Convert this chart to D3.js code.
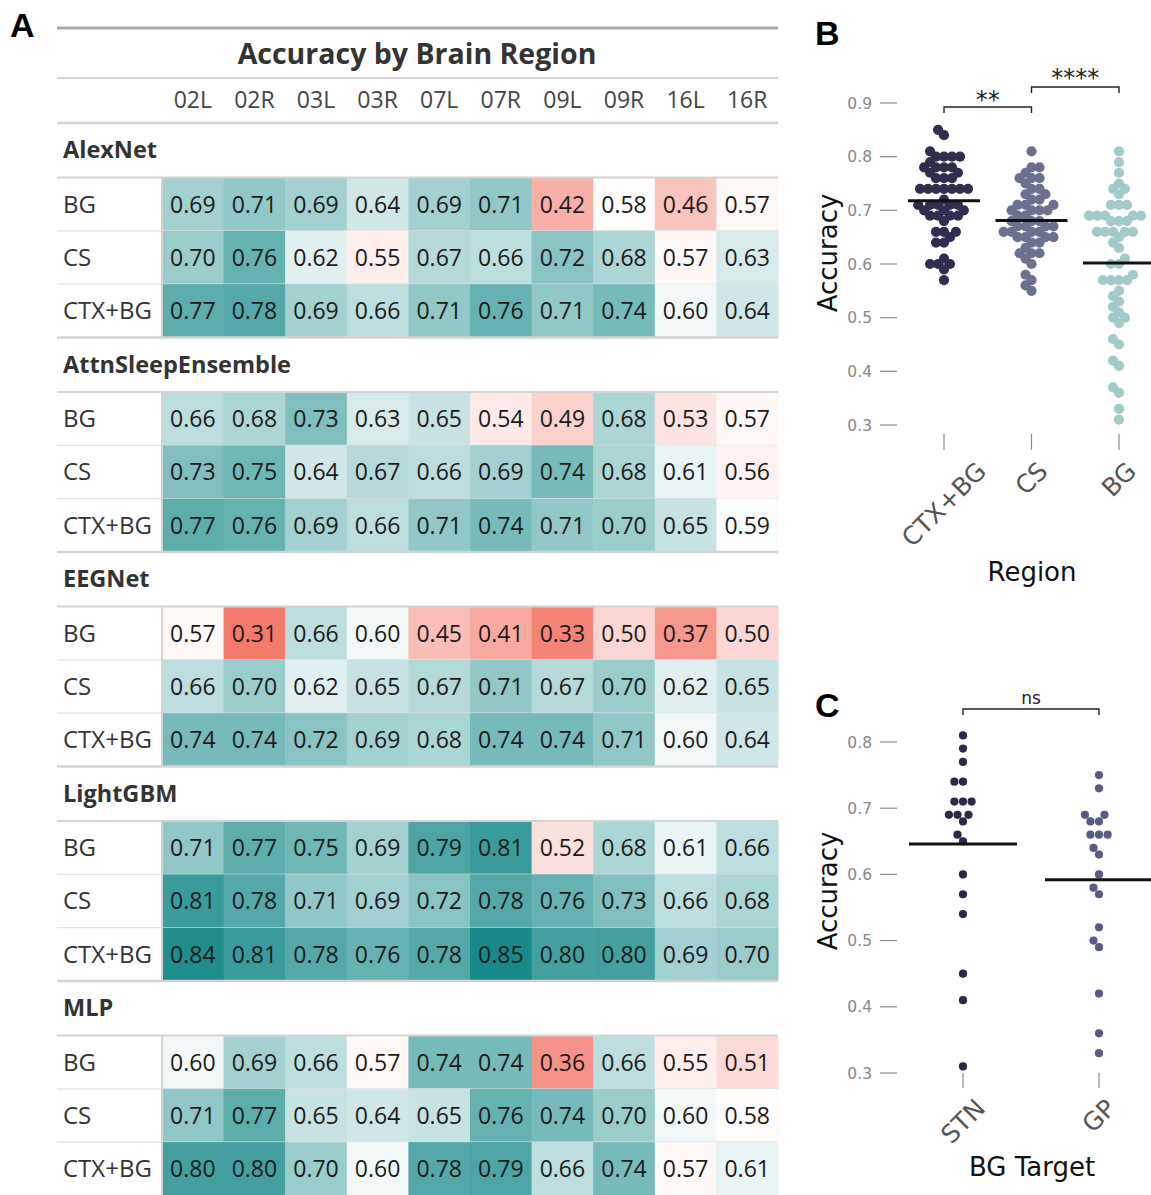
<!DOCTYPE html>
<html><head><meta charset="utf-8">
<script src="https://cdn.jsdelivr.net/npm/d3@7"></script>
<style>body{margin:0;background:#fff}svg{display:block}</style>
</head><body><svg id="c" width="1151" height="1195"></svg>
<script>
// ---------------- DATA ----------------
const columns = ["02L","02R","03L","03R","07L","07R","09L","09R","16L","16R"];
const models = ["AlexNet","AttnSleepEnsemble","EEGNet","LightGBM","MLP"];
const regions = ["BG","CS","CTX+BG"];
const alexnet = [
  [0.69,0.71,0.69,0.64,0.69,0.71,0.42,0.58,0.46,0.57],
  [0.70,0.76,0.62,0.55,0.67,0.66,0.72,0.68,0.57,0.63],
  [0.77,0.78,0.69,0.66,0.71,0.76,0.71,0.74,0.60,0.64]];
const attnSleep = [
  [0.66,0.68,0.73,0.63,0.65,0.54,0.49,0.68,0.53,0.57],
  [0.73,0.75,0.64,0.67,0.66,0.69,0.74,0.68,0.61,0.56],
  [0.77,0.76,0.69,0.66,0.71,0.74,0.71,0.70,0.65,0.59]];
const eegnet = [
  [0.57,0.31,0.66,0.60,0.45,0.41,0.33,0.50,0.37,0.50],
  [0.66,0.70,0.62,0.65,0.67,0.71,0.67,0.70,0.62,0.65],
  [0.74,0.74,0.72,0.69,0.68,0.74,0.74,0.71,0.60,0.64]];
const lightgbm = [
  [0.71,0.77,0.75,0.69,0.79,0.81,0.52,0.68,0.61,0.66],
  [0.81,0.78,0.71,0.69,0.72,0.78,0.76,0.73,0.66,0.68],
  [0.84,0.81,0.78,0.76,0.78,0.85,0.80,0.80,0.69,0.70]];
const mlp = [
  [0.60,0.69,0.66,0.57,0.74,0.74,0.36,0.66,0.55,0.51],
  [0.71,0.77,0.65,0.64,0.65,0.76,0.74,0.70,0.60,0.58],
  [0.80,0.80,0.70,0.60,0.78,0.79,0.66,0.74,0.57,0.61]];
const modelValues = [alexnet, attnSleep, eegnet, lightgbm, mlp];

const regionOrder = ["CTX+BG","CS","BG"];
const regionTicks = [0.3,0.4,0.5,0.6,0.7,0.8,0.9];
const targets = ["STN","GP"];
const stnChannels = ["02L","02R","07L","07R"];
const gpChannels = ["03L","03R","09L","09R"];
const targetTicks = [0.3,0.4,0.5,0.6,0.7,0.8];

// ---------------- SETUP ----------------
const svg = d3.select("#c");
const TF = "'Open Sans', 'Noto Sans', sans-serif";
const MF = "'DejaVu Sans', sans-serif";

const color = d3.scaleLinear().domain([0.31, 0.585, 0.85])
  .range(["#f47a6c", "#ffffff", "#17898a"]).clamp(true);

// ---------------- PANEL A: TABLE ----------------
const tx0 = 57, tx1 = 778, stubR = 162;
const xCol = d3.scaleBand().domain(columns).range([stubR, tx1]);
const headTop = 123, groupH = 214.5, labelH = 54.5, rowH = 53.33;
const yRow = d3.scaleBand().domain(regions).range([0, rowH*3]);

svg.append("text").attr("x", 10).attr("y", 37).text("A")
  .style("font-family", "'Liberation Sans', Arial, sans-serif").style("font-weight", "bold")
  .style("font-size", "34px").attr("fill", "#000");

svg.append("line").attr("x1", tx0).attr("x2", tx1).attr("y1", 28).attr("y2", 28)
  .attr("stroke", "#a9a9a9").attr("stroke-width", 3);
svg.append("text").attr("x", 417).attr("y", 64).attr("text-anchor", "middle")
  .text("Accuracy by Brain Region").style("font-family", TF).style("font-weight", "bold")
  .style("font-size", "28.5px").attr("fill", "#333");
svg.append("line").attr("x1", tx0).attr("x2", tx1).attr("y1", 78).attr("y2", 78)
  .attr("stroke", "#d3d3d3").attr("stroke-width", 2);
svg.append("g").selectAll("text").data(columns).join("text")
  .attr("x", d => xCol(d) + xCol.bandwidth()/2).attr("y", 108).attr("text-anchor", "middle")
  .text(d => d).style("font-family", TF).style("font-size", "23px").attr("fill", "#444");

const groups = svg.append("g");
models.forEach((m, gi) => {
  const top = headTop + gi*groupH;
  const rowsTop = top + labelH;
  const g = groups.append("g");
  regions.forEach((r, ri) => {
    const y = rowsTop + yRow(r);
    const vals = modelValues[gi][ri];
    g.append("g").selectAll("rect").data(vals).join("rect")
      .attr("x", (d, i) => xCol(columns[i])).attr("y", y)
      .attr("width", xCol.bandwidth() + 0.5).attr("height", yRow.bandwidth() + 0.5)
      .attr("fill", d => color(d));
    g.append("g").selectAll("text").data(vals).join("text")
      .attr("x", (d, i) => xCol(columns[i]) + xCol.bandwidth()/2)
      .attr("y", y + yRow.bandwidth()/2 + 8.5).attr("text-anchor", "middle")
      .text(d => d.toFixed(2)).style("font-family", TF).style("font-size", "23px").attr("fill", "#1a1a1a");
    g.append("text").attr("x", 63).attr("y", y + yRow.bandwidth()/2 + 8.5).text(r)
      .style("font-family", TF).style("font-size", "24px").attr("fill", "#333");
    if (ri < 2) {
      g.append("line").attr("x1", tx0).attr("x2", tx1)
        .attr("y1", y + yRow.bandwidth()).attr("y2", y + yRow.bandwidth())
        .attr("stroke", "#e2e2e2").attr("stroke-width", 1.2);
    }
  });
  g.append("line").attr("x1", stubR).attr("x2", stubR).attr("y1", rowsTop).attr("y2", rowsTop + rowH*3)
    .attr("stroke", "#d3d3d3").attr("stroke-width", 2);
  g.append("text").attr("x", 63).attr("y", top + 35).text(m)
    .style("font-family", TF).style("font-weight", "bold").style("font-size", "23.5px").attr("fill", "#333");
  g.append("line").attr("x1", tx0).attr("x2", tx1).attr("y1", rowsTop).attr("y2", rowsTop)
    .attr("stroke", "#d3d3d3").attr("stroke-width", 2);
  g.append("line").attr("x1", tx0).attr("x2", tx1).attr("y1", top).attr("y2", top)
    .attr("stroke", "#d3d3d3").attr("stroke-width", 2.5);
});

// ---------------- helpers ----------------
function swarm(vals, yScale, cx, d) {
  const pts = vals.map(v => ({v, y: yScale(v)}));
  pts.sort((a, b) => b.y - a.y);
  const placed = [];
  for (const p of pts) {
    const neigh = placed.filter(q => Math.abs(q.y - p.y) < d);
    const cands = [0];
    for (const q of neigh) {
      const dx = Math.sqrt(d*d - (q.y - p.y)**2);
      cands.push(q.dx - dx, q.dx + dx);
    }
    cands.sort((a, b) => Math.abs(a) - Math.abs(b));
    p.dx = cands[cands.length-1];
    for (const c of cands) {
      if (neigh.every(q => (q.dx - c)**2 + (q.y - p.y)**2 >= d*d - 1e-6)) { p.dx = c; break; }
    }
    placed.push(p);
  }
  return placed.map(p => ({v: p.v, x: cx + p.dx, y: p.y}));
}

function yAxis(sc, ticks, fmt) {
  const g = svg.append("g");
  ticks.forEach(t => {
    g.append("line").attr("x1", 880).attr("x2", 897).attr("y1", sc(t)).attr("y2", sc(t))
      .attr("stroke", "#8a8a8a").attr("stroke-width", 1.2);
    g.append("text").attr("x", 872).attr("y", sc(t) + 5.5).attr("text-anchor", "end")
      .text(fmt(t)).style("font-family", MF).style("font-size", "15.5px").attr("fill", "#888");
  });
}

function xLabels(xs, names, tickTop, tickBot, labTop) {
  const g = svg.append("g");
  names.forEach(n => {
    const x = xs(n);
    g.append("line").attr("x1", x).attr("x2", x).attr("y1", tickTop).attr("y2", tickBot)
      .attr("stroke", "#8a8a8a").attr("stroke-width", 1.2);
    const t = g.append("text").text(n).style("font-family", MF).style("font-size", "25px")
      .attr("fill", "#555").attr("text-anchor", "middle").attr("dominant-baseline", "central");
    const w = t.node().getComputedTextLength();
    const H = (w + 19) * Math.SQRT1_2;
    t.attr("transform", `translate(${x},${labTop + H/2}) rotate(-45)`);
  });
}

function bracket(x1, x2, y, label, fs, ty) {
  svg.append("path").attr("d", `M${x1},${y+6}V${y}H${x2}V${y+6}`)
    .attr("fill", "none").attr("stroke", "#222").attr("stroke-width", 1.4);
  svg.append("text").attr("x", (x1+x2)/2).attr("y", ty).attr("text-anchor", "middle")
    .text(label).style("font-family", MF).style("font-size", fs + "px").attr("fill", "#222");
}

// ---------------- PANEL B ----------------
const regionData = {};
regions.forEach((r, ri) => {
  regionData[r] = modelValues.flatMap(mv => mv[ri]);
});
const yB = d3.scaleLinear().domain([0.3, 0.9]).range([425, 103]);
const xB = d3.scalePoint().domain(regionOrder).range([944, 1119]);
const colB = d3.scaleOrdinal().domain(regionOrder).range(["#2f2e4e", "#6b7091", "#a2cac8"]);

svg.append("text").attr("x", 815).attr("y", 45).text("B")
  .style("font-family", "'Liberation Sans', Arial, sans-serif").style("font-weight", "bold")
  .style("font-size", "34px").attr("fill", "#000");
yAxis(yB, regionTicks, d3.format(".1f"));
xLabels(xB, regionOrder, 434, 450, 460);
svg.append("text").attr("transform", "translate(837,253) rotate(-90)").attr("text-anchor", "middle")
  .text("Accuracy").style("font-family", MF).style("font-size", "26px").attr("fill", "#111");
svg.append("text").attr("x", 1032).attr("y", 581).attr("text-anchor", "middle")
  .text("Region").style("font-family", MF).style("font-size", "26px").attr("fill", "#111");

regionOrder.forEach(r => {
  const pts = swarm(regionData[r], yB, xB(r), 8);
  svg.append("g").selectAll("circle").data(pts).join("circle")
    .attr("cx", d => d.x).attr("cy", d => d.y).attr("r", 5.1).attr("fill", colB(r));
  const m = d3.mean(regionData[r]);
  svg.append("line").attr("x1", xB(r) - 36).attr("x2", xB(r) + 36)
    .attr("y1", yB(m)).attr("y2", yB(m)).attr("stroke", "#111").attr("stroke-width", 3);
});
bracket(xB("CTX+BG"), xB("CS"), 107, "**", 24, 108);
bracket(xB("CS"), xB("BG"), 87, "****", 24, 86);

// ---------------- PANEL C ----------------
const bgIdx = regions.indexOf("BG");
const targetData = {
  STN: modelValues.flatMap(mv => stnChannels.map(c => mv[bgIdx][columns.indexOf(c)])),
  GP: modelValues.flatMap(mv => gpChannels.map(c => mv[bgIdx][columns.indexOf(c)]))
};
const yC = d3.scaleLinear().domain([0.3, 0.8]).range([1073, 742]);
const xC = d3.scalePoint().domain(targets).range([963, 1099]);
const colC = d3.scaleOrdinal().domain(targets).range(["#2b2a46", "#585c84"]);

svg.append("text").attr("x", 815).attr("y", 717).text("C")
  .style("font-family", "'Liberation Sans', Arial, sans-serif").style("font-weight", "bold")
  .style("font-size", "34px").attr("fill", "#000");
yAxis(yC, targetTicks, d3.format(".1f"));
xLabels(xC, targets, 1073, 1088, 1097);
svg.append("text").attr("transform", "translate(837,891) rotate(-90)").attr("text-anchor", "middle")
  .text("Accuracy").style("font-family", MF).style("font-size", "26px").attr("fill", "#111");
svg.append("text").attr("x", 1032).attr("y", 1176).attr("text-anchor", "middle")
  .text("BG Target").style("font-family", MF).style("font-size", "26px").attr("fill", "#111");

targets.forEach(t => {
  const pts = swarm(targetData[t], yC, xC(t), 8.6);
  svg.append("g").selectAll("circle").data(pts).join("circle")
    .attr("cx", d => d.x).attr("cy", d => d.y).attr("r", 4.1).attr("fill", colC(t));
  const m = d3.mean(targetData[t]);
  svg.append("line").attr("x1", xC(t) - 54).attr("x2", xC(t) + 54)
    .attr("y1", yC(m)).attr("y2", yC(m)).attr("stroke", "#111").attr("stroke-width", 3);
});
bracket(xC("STN"), xC("GP"), 709, "ns", 17, 704);
</script></body></html>
